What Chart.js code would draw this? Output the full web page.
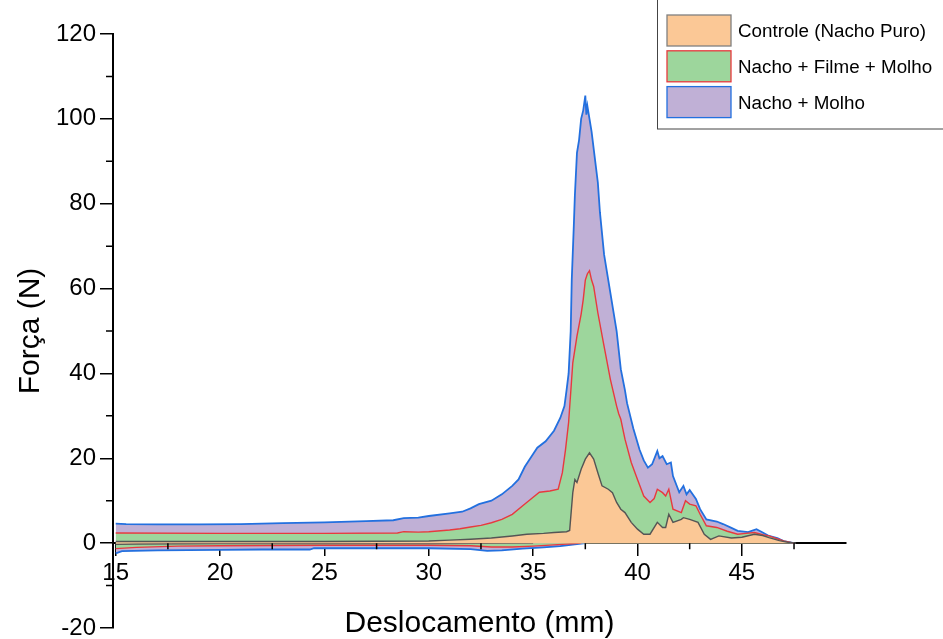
<!DOCTYPE html>
<html>
<head>
<meta charset="utf-8">
<script src="https://cdn.jsdelivr.net/npm/chart.js@4.4.1/dist/chart.umd.min.js"></script>
<style>
  html, body { margin: 0; padding: 0; background: #fff; }
  #wrap { width: 943px; height: 639px; position: relative; }
</style>
</head>
<body>
<div id="wrap"><canvas id="chart"></canvas></div>
<script>
const seriesLabels = ['Controle (Nacho Puro)', 'Nacho + Filme + Molho', 'Nacho + Molho'];

// Controle (Nacho Puro) - loading path and return path
const ctrlX = [15, 20, 25, 30, 31, 32, 33, 34, 34.7, 35.5, 36.0, 36.6, 36.75, 36.9, 37.0, 37.1, 37.3, 37.5, 37.7, 37.9, 38.1, 38.3, 38.6, 38.8, 39.0, 39.2, 39.4, 39.7, 40.0, 40.3, 40.6, 40.95, 41.2, 41.35, 41.5, 41.7, 42.1, 42.2, 42.5, 42.9, 43.2, 43.5, 43.9, 44.5, 45.0, 45.6, 46.0, 46.3, 46.8, 47.2, 47.6];
const ctrlY = [0.4, 0.4, 0.4, 0.5, 0.7, 0.9, 1.2, 1.7, 2.1, 2.3, 2.5, 2.7, 3.0, 11.9, 15, 14.3, 17.4, 19.8, 21.3, 19.8, 16.6, 13.5, 12.7, 11.9, 9.6, 8.0, 7.2, 4.9, 3.3, 2.1, 2.1, 4.9, 3.7, 3.7, 6.8, 4.9, 5.6, 6.0, 5.6, 4.9, 2.1, 0.9, 1.7, 1.2, 1.4, 2.1, 1.8, 1.3, 0.6, 0.2, 0];
const ctrlRetX = [15, 16, 20, 30, 35];
const ctrlRetY = [-0.3, -0.2, -0.1, -0.1, 0];

// Nacho + Filme + Molho
const filmeX = [15, 20, 25, 28.5, 28.8, 29.5, 30, 31, 31.5, 32, 32.5, 33, 33.5, 34, 34.5, 35, 35.3, 35.8, 36.2, 36.4, 36.55, 36.7, 36.9, 37.1, 37.3, 37.4, 37.5, 37.6, 37.7, 37.8, 37.9, 38.1, 38.4, 38.7, 39.0, 39.1, 39.2, 39.4, 39.7, 40.0, 40.3, 40.6, 40.8, 40.95, 41.2, 41.35, 41.5, 41.7, 42.1, 42.3, 42.5, 42.8, 43.0, 43.3, 43.8, 44.3, 44.8, 45.2, 45.6, 46.0, 46.3, 47.0, 47.5];
const filmeY = [2.4, 2.3, 2.3, 2.4, 2.7, 2.6, 2.7, 3.1, 3.4, 3.8, 4.2, 4.8, 5.6, 6.8, 8.8, 10.8, 12.0, 12.3, 12.7, 16.6, 22, 28.5, 42.5, 48.8, 54, 57.4, 62, 63.5, 64.2, 62, 60.5, 54.3, 46.4, 38.6, 32.3, 30.5, 29.2, 24.5, 19, 15, 11.1, 9.6, 10.5, 12.7, 11.9, 11.1, 12.7, 8.0, 7.2, 10.0, 9.2, 8.8, 6.8, 4.1, 3.7, 2.8, 2.1, 2.3, 2.5, 2.0, 1.7, 0.5, 0];
const filmeRetX = [15, 16, 18, 20, 25, 30, 32, 33, 34, 35, 36, 37, 37.3];
const filmeRetY = [-1.3, -1.0, -0.7, -0.6, -0.5, -0.5, -0.6, -0.9, -0.9, -0.7, -0.4, -0.1, 0];

// Nacho + Molho
const molhoX = [15, 15.5, 17, 19, 21, 23, 25, 27, 28.3, 28.8, 29.5, 30, 31, 31.6, 32, 32.4, 33, 33.5, 34, 34.3, 34.6, 35, 35.2, 35.6, 36.0, 36.3, 36.5, 36.6, 36.7, 36.8, 36.85, 36.95, 37.0, 37.1, 37.2, 37.3, 37.4, 37.5, 37.55, 37.6, 37.7, 37.8, 38.0, 38.1, 38.2, 38.4, 38.6, 38.8, 39.0, 39.2, 39.4, 39.5, 39.8, 40.1, 40.3, 40.5, 40.7, 40.95, 41.05, 41.2, 41.4, 41.6, 41.7, 42.0, 42.2, 42.35, 42.5, 42.8, 43.0, 43.3, 43.8, 44.1, 44.5, 44.8, 45.3, 45.7, 46.0, 46.3, 46.7, 47.0, 47.5];
const molhoY = [4.6, 4.5, 4.4, 4.4, 4.5, 4.7, 4.9, 5.2, 5.4, 5.9, 6.0, 6.4, 7.0, 7.4, 8.2, 9.2, 10, 11.5, 13.5, 15, 18, 21, 22.5, 24, 26.5, 29.5, 32.3, 36, 40, 50, 62, 75, 82, 92, 95, 100, 102, 105.5, 101, 103, 100, 97, 89, 85, 78, 68, 62, 56, 50, 41, 36, 33, 27, 22, 19.5, 17.8, 18.6, 21.7, 20, 20.5, 18.6, 19, 15.8, 12, 13.5, 11.5, 12.5, 10.4, 8, 5.6, 5.1, 4.5, 3.6, 2.9, 2.6, 3.3, 2.5, 1.7, 1.2, 0.5, 0];
const molhoRetX = [15, 15.3, 17, 20, 22, 24.3, 24.5, 27, 30, 32, 32.8, 33.5, 34.5, 35.5, 36.3, 37, 37.5];
const molhoRetY = [-2.4, -1.9, -1.7, -1.6, -1.5, -1.5, -1.2, -1.2, -1.2, -1.4, -1.8, -1.7, -1.3, -1.0, -0.7, -0.3, 0];

const xMajorTicks = [15, 20, 25, 30, 35, 40, 45];
const xMinorTicks = [17.5, 22.5, 27.5, 32.5, 37.5, 42.5, 47.5];
const yMinorTicks = [-10, 10, 30, 50, 70, 90, 110];

const fills = ['#FBC896', '#9DD69C', '#C0B0D6'];
const lines = ['#555555', '#E8393E', '#2370DF'];
const swatchBorders = ['#808080', '#E8393E', '#2370DF'];

function pts(xs, ys) {
  return xs.map((x, i) => ({ x: x, y: ys[i] }));
}

function ds(label, xs, ys, k) {
  return {
    label: label,
    data: pts(xs, ys),
    borderColor: lines[k],
    backgroundColor: fills[k],
    borderWidth: k === 2 ? 1.8 : 1.4,
    pointRadius: 0,
    tension: 0,
    fill: 'origin'
  };
}

const minorTicks = {
  id: 'minorTicks',
  afterDraw(chart) {
    const ctx = chart.ctx;
    const xs = chart.scales.x, ys = chart.scales.y;
    const y0 = ys.getPixelForValue(0);
    const left = chart.chartArea.left;
    ctx.save();
    ctx.strokeStyle = '#000';
    ctx.lineWidth = 1.5;
    ctx.beginPath();
    xMinorTicks.forEach(v => {
      const px = xs.getPixelForValue(v);
      ctx.moveTo(px, y0);
      ctx.lineTo(px, y0 + 6);
    });
    yMinorTicks.forEach(v => {
      const py = ys.getPixelForValue(v);
      ctx.moveTo(left, py);
      ctx.lineTo(left - 7, py);
    });
    ctx.stroke();
    ctx.restore();
  }
};

const boxLegend = {
  id: 'boxLegend',
  afterDraw(chart) {
    const ctx = chart.ctx;
    ctx.save();
    ctx.fillStyle = '#fff';
    ctx.fillRect(657, -1, 300, 130);
    ctx.strokeStyle = '#444';
    ctx.lineWidth = 1;
    ctx.strokeRect(657.5, -1, 300, 130);
    ctx.font = '18.8px "Liberation Sans", Arial, sans-serif';
    ctx.textBaseline = 'middle';
    seriesLabels.forEach((lab, i) => {
      const top = 15 + i * 35.8;
      ctx.fillStyle = fills[i];
      ctx.fillRect(667, top, 64, 31);
      ctx.strokeStyle = swatchBorders[i];
      ctx.lineWidth = 1.3;
      ctx.strokeRect(667, top, 64, 31);
      ctx.fillStyle = '#000';
      ctx.fillText(lab, 738, top + 17);
    });
    ctx.restore();
  }
};

new Chart(document.getElementById('chart'), {
  type: 'line',
  data: {
    datasets: [
      ds(seriesLabels[0], ctrlX, ctrlY, 0),
      ds(seriesLabels[0] + ' ret', ctrlRetX, ctrlRetY, 0),
      ds(seriesLabels[1], filmeX, filmeY, 1),
      ds(seriesLabels[1] + ' ret', filmeRetX, filmeRetY, 1),
      ds(seriesLabels[2], molhoX, molhoY, 2),
      ds(seriesLabels[2] + ' ret', molhoRetX, molhoRetY, 2)
    ]
  },
  options: {
    responsive: true,
    maintainAspectRatio: false,
    animation: false,
    layout: { autoPadding: false, padding: { top: 34, right: 97, bottom: 11, left: 0 } },
    plugins: { legend: { display: false }, tooltip: { enabled: false } },
    scales: {
      x: {
        type: 'linear',
        position: { y: 0 },
        min: 14.87,
        max: 49.99,
        afterBuildTicks: s => { s.ticks = xMajorTicks.map(v => ({ value: v })); },
        afterFit: s => { s.paddingTop = 0; s.paddingBottom = 0; s.paddingLeft = 0; s.paddingRight = 0; },
        grid: { drawOnChartArea: false, drawTicks: true, tickLength: 12, color: '#000', lineWidth: 1.5 },
        border: { display: true, color: '#000', width: 2 },
        ticks: {
          color: '#000',
          font: { family: '"Liberation Sans", Arial, sans-serif', size: 24 },
          padding: 4,
          maxRotation: 0
        },
        title: {
          display: true,
          text: 'Deslocamento (mm)',
          color: '#000',
          font: { family: '"Liberation Sans", Arial, sans-serif', size: 30 },
          padding: { top: 14, bottom: 0 }
        }
      },
      y: {
        type: 'linear',
        position: 'left',
        min: -20,
        max: 120,
        afterFit: s => { s.width = 113; s.paddingTop = 0; s.paddingBottom = 0; },
        grid: { drawOnChartArea: false, drawTicks: true, tickLength: 13, color: '#000', lineWidth: 1.5 },
        border: { display: true, color: '#000', width: 2 },
        ticks: {
          stepSize: 20,
          color: '#000',
          font: { family: '"Liberation Sans", Arial, sans-serif', size: 24 },
          padding: 4
        },
        title: {
          display: true,
          text: 'Força (N)',
          color: '#000',
          font: { family: '"Liberation Sans", Arial, sans-serif', size: 30 },
          padding: { top: 13, bottom: 0 }
        }
      }
    }
  },
  plugins: [minorTicks, boxLegend]
});
</script>
</body>
</html>
